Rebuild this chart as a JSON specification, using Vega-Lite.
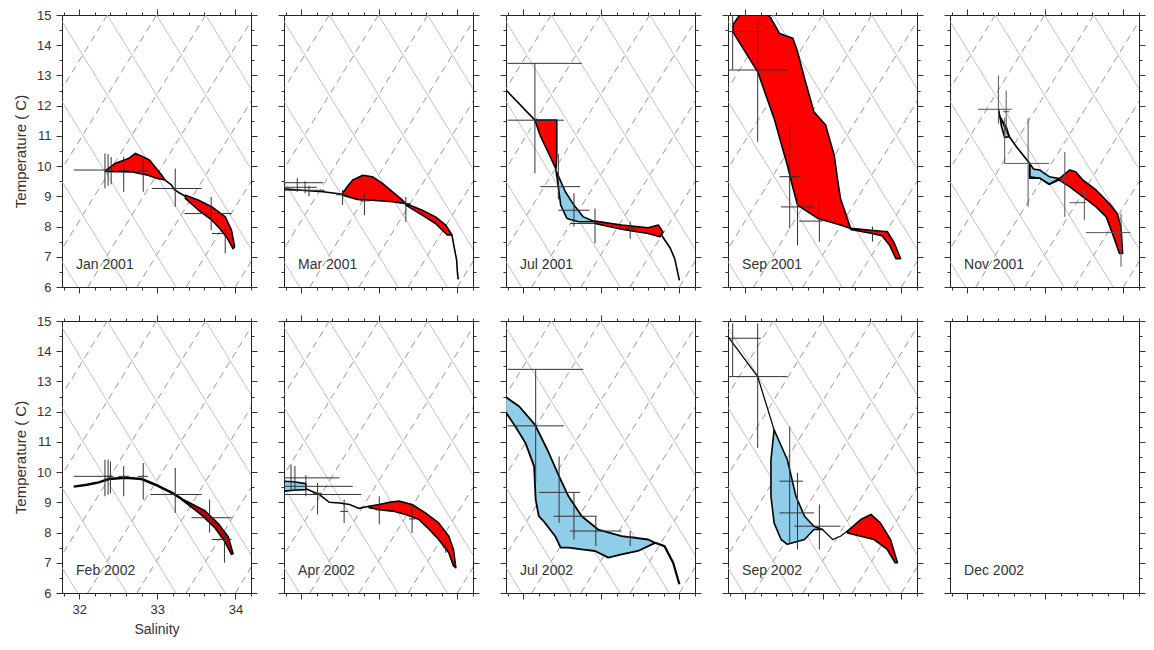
{
"$schema":"https://vega.github.io/schema/vega-lite/v6.json",
"padding":{"left":13,"top":8,"right":4,"bottom":4},
"background":"white",
"bounds":"flush",
"spacing":{"row":34,"column":33},
"columns":5,
"config":{"view":{"stroke":"#222","strokeWidth":1},"axis":{"domain":false,"grid":false,"tickColor":"#333","tickWidth":1,"labelFont":"Liberation Sans","labelFontSize":13,"labelColor":"#333","titleFont":"Liberation Sans","titleFontWeight":"normal","titleColor":"#333","titleFontSize":14,"labelOverlap":false,"labelFlush":false}},
"datasets":{
"iso":[
{"id":"d1","k":"d","s":30.22,"t":6},{"id":"d1","k":"d","s":32.36,"t":15},
{"id":"d2","k":"d","s":30.85,"t":6},{"id":"d2","k":"d","s":32.99,"t":15},
{"id":"d3","k":"d","s":31.48,"t":6},{"id":"d3","k":"d","s":33.62,"t":15},
{"id":"d4","k":"d","s":32.11,"t":6},{"id":"d4","k":"d","s":34.25,"t":15},
{"id":"d5","k":"d","s":32.74,"t":6},{"id":"d5","k":"d","s":34.88,"t":15},
{"id":"d6","k":"d","s":33.37,"t":6},{"id":"d6","k":"d","s":35.51,"t":15},
{"id":"d7","k":"d","s":34.0,"t":6},{"id":"d7","k":"d","s":36.14,"t":15},
{"id":"s1","k":"s","s":29.84,"t":15},{"id":"s1","k":"s","s":31.98,"t":6},
{"id":"s2","k":"s","s":30.47,"t":15},{"id":"s2","k":"s","s":32.61,"t":6},
{"id":"s3","k":"s","s":31.1,"t":15},{"id":"s3","k":"s","s":33.24,"t":6},
{"id":"s4","k":"s","s":31.73,"t":15},{"id":"s4","k":"s","s":33.87,"t":6},
{"id":"s5","k":"s","s":32.36,"t":15},{"id":"s5","k":"s","s":34.5,"t":6},
{"id":"s6","k":"s","s":32.99,"t":15},{"id":"s6","k":"s","s":35.13,"t":6},
{"id":"s7","k":"s","s":33.62,"t":15},{"id":"s7","k":"s","s":35.76,"t":6}
],
"polys":[
{"p":1,"g":"1a","c":"r","s":32.34,"t":9.86},{"p":1,"g":"1a","c":"r","s":32.46,"t":10.09},{"p":1,"g":"1a","c":"r","s":32.63,"t":10.25},{"p":1,"g":"1a","c":"r","s":32.72,"t":10.42},{"p":1,"g":"1a","c":"r","s":32.8,"t":10.33},{"p":1,"g":"1a","c":"r","s":32.9,"t":10.2},{"p":1,"g":"1a","c":"r","s":32.97,"t":9.98},{"p":1,"g":"1a","c":"r","s":33.05,"t":9.72},{"p":1,"g":"1a","c":"r","s":33.1,"t":9.54},{"p":1,"g":"1a","c":"r","s":33.0,"t":9.59},{"p":1,"g":"1a","c":"r","s":32.88,"t":9.7},{"p":1,"g":"1a","c":"r","s":32.68,"t":9.81},{"p":1,"g":"1a","c":"r","s":32.34,"t":9.82},
{"p":1,"g":"1b","c":"r","s":33.36,"t":9.04},{"p":1,"g":"1b","c":"r","s":33.53,"t":8.87},{"p":1,"g":"1b","c":"r","s":33.7,"t":8.65},{"p":1,"g":"1b","c":"r","s":33.87,"t":8.32},{"p":1,"g":"1b","c":"r","s":33.95,"t":7.88},{"p":1,"g":"1b","c":"r","s":33.99,"t":7.33},{"p":1,"g":"1b","c":"r","s":33.97,"t":7.27},{"p":1,"g":"1b","c":"r","s":33.9,"t":7.6},{"p":1,"g":"1b","c":"r","s":33.82,"t":7.88},{"p":1,"g":"1b","c":"r","s":33.7,"t":8.21},{"p":1,"g":"1b","c":"r","s":33.53,"t":8.54},{"p":1,"g":"1b","c":"r","s":33.36,"t":8.93},
{"p":2,"g":"2a","c":"r","s":32.53,"t":9.1},{"p":2,"g":"2a","c":"r","s":32.6,"t":9.35},{"p":2,"g":"2a","c":"r","s":32.66,"t":9.54},{"p":2,"g":"2a","c":"r","s":32.79,"t":9.7},{"p":2,"g":"2a","c":"r","s":32.91,"t":9.65},{"p":2,"g":"2a","c":"r","s":33.04,"t":9.43},{"p":2,"g":"2a","c":"r","s":33.17,"t":9.15},{"p":2,"g":"2a","c":"r","s":33.27,"t":8.93},{"p":2,"g":"2a","c":"r","s":33.34,"t":8.76},{"p":2,"g":"2a","c":"r","s":33.17,"t":8.82},{"p":2,"g":"2a","c":"r","s":32.91,"t":8.87},{"p":2,"g":"2a","c":"r","s":32.72,"t":8.9},{"p":2,"g":"2a","c":"r","s":32.53,"t":9.04},
{"p":2,"g":"2b","c":"r","s":33.34,"t":8.76},{"p":2,"g":"2b","c":"r","s":33.55,"t":8.54},{"p":2,"g":"2b","c":"r","s":33.72,"t":8.32},{"p":2,"g":"2b","c":"r","s":33.85,"t":8.05},{"p":2,"g":"2b","c":"r","s":33.93,"t":7.72},{"p":2,"g":"2b","c":"r","s":33.87,"t":7.72},{"p":2,"g":"2b","c":"r","s":33.72,"t":8.1},{"p":2,"g":"2b","c":"r","s":33.55,"t":8.38},{"p":2,"g":"2b","c":"r","s":33.34,"t":8.71},
{"p":3,"g":"3a","c":"r","s":32.15,"t":11.52},{"p":3,"g":"3a","c":"r","s":32.43,"t":11.52},{"p":3,"g":"3a","c":"r","s":32.43,"t":10.4},{"p":3,"g":"3a","c":"r","s":32.42,"t":9.9},{"p":3,"g":"3a","c":"r","s":32.33,"t":10.4},{"p":3,"g":"3a","c":"r","s":32.22,"t":11.0},
{"p":3,"g":"3b","c":"b","s":32.42,"t":9.85},{"p":3,"g":"3b","c":"b","s":32.54,"t":9.15},{"p":3,"g":"3b","c":"b","s":32.65,"t":8.71},{"p":3,"g":"3b","c":"b","s":32.77,"t":8.32},{"p":3,"g":"3b","c":"b","s":32.92,"t":8.16},{"p":3,"g":"3b","c":"b","s":32.71,"t":8.16},{"p":3,"g":"3b","c":"b","s":32.56,"t":8.27},{"p":3,"g":"3b","c":"b","s":32.48,"t":8.71},{"p":3,"g":"3b","c":"b","s":32.45,"t":9.32},
{"p":3,"g":"3c","c":"r","s":32.92,"t":8.18},{"p":3,"g":"3c","c":"r","s":33.26,"t":8.05},{"p":3,"g":"3c","c":"r","s":33.6,"t":7.96},{"p":3,"g":"3c","c":"r","s":33.73,"t":8.05},{"p":3,"g":"3c","c":"r","s":33.79,"t":7.82},{"p":3,"g":"3c","c":"r","s":33.75,"t":7.66},{"p":3,"g":"3c","c":"r","s":33.6,"t":7.77},{"p":3,"g":"3c","c":"r","s":33.26,"t":7.91},{"p":3,"g":"3c","c":"r","s":32.92,"t":8.1},
{"p":4,"g":"4a","c":"r","s":31.93,"t":15.0},{"p":4,"g":"4a","c":"r","s":32.29,"t":15.0},{"p":4,"g":"4a","c":"r","s":32.33,"t":14.89},{"p":4,"g":"4a","c":"r","s":32.44,"t":14.39},{"p":4,"g":"4a","c":"r","s":32.61,"t":14.23},{"p":4,"g":"4a","c":"r","s":32.67,"t":13.79},{"p":4,"g":"4a","c":"r","s":32.72,"t":13.3},{"p":4,"g":"4a","c":"r","s":32.76,"t":12.9},{"p":4,"g":"4a","c":"r","s":32.88,"t":11.8},{"p":4,"g":"4a","c":"r","s":33.03,"t":11.36},{"p":4,"g":"4a","c":"r","s":33.08,"t":10.9},{"p":4,"g":"4a","c":"r","s":33.14,"t":10.36},{"p":4,"g":"4a","c":"r","s":33.18,"t":9.6},{"p":4,"g":"4a","c":"r","s":33.22,"t":8.93},{"p":4,"g":"4a","c":"r","s":33.35,"t":7.94},{"p":4,"g":"4a","c":"r","s":33.22,"t":8.05},{"p":4,"g":"4a","c":"r","s":32.93,"t":8.27},{"p":4,"g":"4a","c":"r","s":32.67,"t":8.71},{"p":4,"g":"4a","c":"r","s":32.6,"t":9.4},{"p":4,"g":"4a","c":"r","s":32.54,"t":10.03},{"p":4,"g":"4a","c":"r","s":32.37,"t":11.58},{"p":4,"g":"4a","c":"r","s":32.16,"t":13.12},{"p":4,"g":"4a","c":"r","s":31.84,"t":14.45},{"p":4,"g":"4a","c":"r","s":31.85,"t":14.7},
{"p":4,"g":"4b","c":"r","s":33.35,"t":7.94},{"p":4,"g":"4b","c":"r","s":33.61,"t":7.88},{"p":4,"g":"4b","c":"r","s":33.82,"t":7.83},{"p":4,"g":"4b","c":"r","s":33.9,"t":7.5},{"p":4,"g":"4b","c":"r","s":33.99,"t":6.94},{"p":4,"g":"4b","c":"r","s":33.93,"t":6.94},{"p":4,"g":"4b","c":"r","s":33.85,"t":7.38},{"p":4,"g":"4b","c":"r","s":33.75,"t":7.7},{"p":4,"g":"4b","c":"r","s":33.61,"t":7.78},{"p":4,"g":"4b","c":"r","s":33.35,"t":7.9},
{"p":5,"g":"5a","c":"r","s":33.18,"t":9.59},{"p":5,"g":"5a","c":"r","s":33.31,"t":9.87},{"p":5,"g":"5a","c":"r","s":33.39,"t":9.81},{"p":5,"g":"5a","c":"r","s":33.48,"t":9.54},{"p":5,"g":"5a","c":"r","s":33.65,"t":9.21},{"p":5,"g":"5a","c":"r","s":33.82,"t":8.76},{"p":5,"g":"5a","c":"r","s":33.92,"t":8.43},{"p":5,"g":"5a","c":"r","s":33.97,"t":7.99},{"p":5,"g":"5a","c":"r","s":33.99,"t":7.11},{"p":5,"g":"5a","c":"r","s":33.95,"t":7.11},{"p":5,"g":"5a","c":"r","s":33.86,"t":7.77},{"p":5,"g":"5a","c":"r","s":33.78,"t":8.32},{"p":5,"g":"5a","c":"r","s":33.65,"t":8.65},{"p":5,"g":"5a","c":"r","s":33.48,"t":8.99},{"p":5,"g":"5a","c":"r","s":33.31,"t":9.32},{"p":5,"g":"5a","c":"r","s":33.18,"t":9.54},
{"p":5,"g":"5b","c":"b","s":32.42,"t":11.63},{"p":5,"g":"5b","c":"b","s":32.5,"t":11.3},{"p":5,"g":"5b","c":"b","s":32.54,"t":10.97},{"p":5,"g":"5b","c":"b","s":32.48,"t":10.95},{"p":5,"g":"5b","c":"b","s":32.44,"t":11.3},
{"p":5,"g":"5c","c":"b","s":32.8,"t":10.09},{"p":5,"g":"5c","c":"b","s":32.85,"t":9.9},{"p":5,"g":"5c","c":"b","s":32.93,"t":9.87},{"p":5,"g":"5c","c":"b","s":33.05,"t":9.65},{"p":5,"g":"5c","c":"b","s":33.18,"t":9.59},{"p":5,"g":"5c","c":"b","s":33.05,"t":9.4},{"p":5,"g":"5c","c":"b","s":32.93,"t":9.6},{"p":5,"g":"5c","c":"b","s":32.8,"t":9.6},
{"p":6,"g":"6a","c":"r","s":33.31,"t":9.12},{"p":6,"g":"6a","c":"r","s":33.4,"t":9.0},{"p":6,"g":"6a","c":"r","s":33.61,"t":8.72},{"p":6,"g":"6a","c":"r","s":33.78,"t":8.3},{"p":6,"g":"6a","c":"r","s":33.91,"t":7.85},{"p":6,"g":"6a","c":"r","s":33.97,"t":7.3},{"p":6,"g":"6a","c":"r","s":33.95,"t":7.28},{"p":6,"g":"6a","c":"r","s":33.86,"t":7.72},{"p":6,"g":"6a","c":"r","s":33.74,"t":8.15},{"p":6,"g":"6a","c":"r","s":33.58,"t":8.55},{"p":6,"g":"6a","c":"r","s":33.4,"t":8.92},{"p":6,"g":"6a","c":"r","s":33.31,"t":9.09},
{"p":7,"g":"7a","c":"b","s":31.78,"t":9.7},{"p":7,"g":"7a","c":"b","s":31.9,"t":9.68},{"p":7,"g":"7a","c":"b","s":32.06,"t":9.62},{"p":7,"g":"7a","c":"b","s":32.06,"t":9.42},{"p":7,"g":"7a","c":"b","s":31.9,"t":9.4},{"p":7,"g":"7a","c":"b","s":31.78,"t":9.37},
{"p":7,"g":"7b","c":"r","s":32.87,"t":8.87},{"p":7,"g":"7b","c":"r","s":33.0,"t":8.93},{"p":7,"g":"7b","c":"r","s":33.13,"t":9.0},{"p":7,"g":"7b","c":"r","s":33.25,"t":9.04},{"p":7,"g":"7b","c":"r","s":33.42,"t":8.93},{"p":7,"g":"7b","c":"r","s":33.59,"t":8.65},{"p":7,"g":"7b","c":"r","s":33.76,"t":8.32},{"p":7,"g":"7b","c":"r","s":33.89,"t":7.88},{"p":7,"g":"7b","c":"r","s":33.95,"t":7.44},{"p":7,"g":"7b","c":"r","s":33.98,"t":6.84},{"p":7,"g":"7b","c":"r","s":33.95,"t":6.9},{"p":7,"g":"7b","c":"r","s":33.89,"t":7.33},{"p":7,"g":"7b","c":"r","s":33.76,"t":7.77},{"p":7,"g":"7b","c":"r","s":33.64,"t":8.1},{"p":7,"g":"7b","c":"r","s":33.51,"t":8.43},{"p":7,"g":"7b","c":"r","s":33.34,"t":8.6},{"p":7,"g":"7b","c":"r","s":33.17,"t":8.71},{"p":7,"g":"7b","c":"r","s":33.0,"t":8.76},{"p":7,"g":"7b","c":"r","s":32.87,"t":8.82},
{"p":8,"g":"8a","c":"b","s":31.77,"t":12.5},{"p":8,"g":"8a","c":"b","s":31.95,"t":12.17},{"p":8,"g":"8a","c":"b","s":32.15,"t":11.57},{"p":8,"g":"8a","c":"b","s":32.31,"t":10.74},{"p":8,"g":"8a","c":"b","s":32.46,"t":9.86},{"p":8,"g":"8a","c":"b","s":32.58,"t":9.2},{"p":8,"g":"8a","c":"b","s":32.75,"t":8.54},{"p":8,"g":"8a","c":"b","s":32.96,"t":8.1},{"p":8,"g":"8a","c":"b","s":33.26,"t":7.88},{"p":8,"g":"8a","c":"b","s":33.6,"t":7.77},{"p":8,"g":"8a","c":"b","s":33.69,"t":7.66},{"p":8,"g":"8a","c":"b","s":33.47,"t":7.39},{"p":8,"g":"8a","c":"b","s":33.26,"t":7.28},{"p":8,"g":"8a","c":"b","s":33.09,"t":7.17},{"p":8,"g":"8a","c":"b","s":32.92,"t":7.39},{"p":8,"g":"8a","c":"b","s":32.75,"t":7.44},{"p":8,"g":"8a","c":"b","s":32.58,"t":7.5},{"p":8,"g":"8a","c":"b","s":32.48,"t":7.5},{"p":8,"g":"8a","c":"b","s":32.41,"t":7.88},{"p":8,"g":"8a","c":"b","s":32.26,"t":8.38},{"p":8,"g":"8a","c":"b","s":32.2,"t":8.54},{"p":8,"g":"8a","c":"b","s":32.16,"t":9.09},{"p":8,"g":"8a","c":"b","s":32.14,"t":10.19},{"p":8,"g":"8a","c":"b","s":32.03,"t":10.96},{"p":8,"g":"8a","c":"b","s":31.9,"t":11.51},{"p":8,"g":"8a","c":"b","s":31.77,"t":12.01},
{"p":9,"g":"9a","c":"b","s":32.37,"t":11.4},{"p":9,"g":"9a","c":"b","s":32.54,"t":10.41},{"p":9,"g":"9a","c":"b","s":32.65,"t":9.2},{"p":9,"g":"9a","c":"b","s":32.76,"t":8.54},{"p":9,"g":"9a","c":"b","s":32.88,"t":8.21},{"p":9,"g":"9a","c":"b","s":32.99,"t":8.1},{"p":9,"g":"9a","c":"b","s":32.88,"t":8.1},{"p":9,"g":"9a","c":"b","s":32.76,"t":7.77},{"p":9,"g":"9a","c":"b","s":32.54,"t":7.61},{"p":9,"g":"9a","c":"b","s":32.46,"t":7.77},{"p":9,"g":"9a","c":"b","s":32.37,"t":8.32},{"p":9,"g":"9a","c":"b","s":32.33,"t":9.2},{"p":9,"g":"9a","c":"b","s":32.33,"t":10.41},
{"p":9,"g":"9b","c":"r","s":33.31,"t":8.05},{"p":9,"g":"9b","c":"r","s":33.48,"t":8.43},{"p":9,"g":"9b","c":"r","s":33.61,"t":8.6},{"p":9,"g":"9b","c":"r","s":33.73,"t":8.32},{"p":9,"g":"9b","c":"r","s":33.86,"t":7.77},{"p":9,"g":"9b","c":"r","s":33.95,"t":7.0},{"p":9,"g":"9b","c":"r","s":33.92,"t":7.0},{"p":9,"g":"9b","c":"r","s":33.82,"t":7.44},{"p":9,"g":"9b","c":"r","s":33.65,"t":7.77},{"p":9,"g":"9b","c":"r","s":33.48,"t":7.88},{"p":9,"g":"9b","c":"r","s":33.31,"t":7.99}
],
"lines":[
{"p":1,"g":"1l","s":33.1,"t":9.54},{"p":1,"g":"1l","s":33.18,"t":9.38},{"p":1,"g":"1l","s":33.22,"t":9.22},{"p":1,"g":"1l","s":33.28,"t":9.12},{"p":1,"g":"1l","s":33.36,"t":9.0},
{"p":2,"g":"2l1","s":31.78,"t":9.25},{"p":2,"g":"2l1","s":32.0,"t":9.2},{"p":2,"g":"2l1","s":32.28,"t":9.15},{"p":2,"g":"2l1","s":32.53,"t":9.07},
{"p":2,"g":"2l2","s":33.93,"t":7.72},{"p":2,"g":"2l2","s":33.96,"t":7.3},{"p":2,"g":"2l2","s":33.99,"t":6.9},{"p":2,"g":"2l2","s":34.0,"t":6.5},{"p":2,"g":"2l2","s":34.01,"t":6.25},
{"p":3,"g":"3l1","s":31.78,"t":12.52},{"p":3,"g":"3l1","s":32.15,"t":11.52},
{"p":3,"g":"3l2","s":33.77,"t":7.72},{"p":3,"g":"3l2","s":33.88,"t":7.3},{"p":3,"g":"3l2","s":33.94,"t":6.94},{"p":3,"g":"3l2","s":34.0,"t":6.22},
{"p":5,"g":"5l","s":32.4,"t":11.9},{"p":5,"g":"5l","s":32.42,"t":11.63},{"p":5,"g":"5l","s":32.5,"t":11.2},{"p":5,"g":"5l","s":32.54,"t":10.97},{"p":5,"g":"5l","s":32.63,"t":10.64},{"p":5,"g":"5l","s":32.8,"t":10.09},{"p":5,"g":"5l","s":32.8,"t":9.65},{"p":5,"g":"5l","s":32.93,"t":9.6},{"p":5,"g":"5l","s":33.05,"t":9.4},{"p":5,"g":"5l","s":33.18,"t":9.55},
{"p":6,"g":"6l","s":31.93,"t":9.52},{"p":6,"g":"6l","s":32.1,"t":9.58},{"p":6,"g":"6l","s":32.25,"t":9.66},{"p":6,"g":"6l","s":32.38,"t":9.77},{"p":6,"g":"6l","s":32.59,"t":9.81},{"p":6,"g":"6l","s":32.8,"t":9.77},{"p":6,"g":"6l","s":32.97,"t":9.59},{"p":6,"g":"6l","s":33.19,"t":9.31},{"p":6,"g":"6l","s":33.31,"t":9.12},
{"p":7,"g":"7l","s":32.06,"t":9.45},{"p":7,"g":"7l","s":32.23,"t":9.26},{"p":7,"g":"7l","s":32.36,"t":9.0},{"p":7,"g":"7l","s":32.49,"t":8.98},{"p":7,"g":"7l","s":32.62,"t":8.93},{"p":7,"g":"7l","s":32.74,"t":8.8},{"p":7,"g":"7l","s":32.87,"t":8.87},
{"p":8,"g":"8l","s":33.69,"t":7.66},{"p":8,"g":"8l","s":33.81,"t":7.55},{"p":8,"g":"8l","s":33.92,"t":7.0},{"p":8,"g":"8l","s":34.0,"t":6.29},
{"p":9,"g":"9l1","s":31.78,"t":14.48},{"p":9,"g":"9l1","s":32.16,"t":13.16},{"p":9,"g":"9l1","s":32.37,"t":11.4},
{"p":9,"g":"9l2","s":32.99,"t":8.1},{"p":9,"g":"9l2","s":33.12,"t":7.77},{"p":9,"g":"9l2","s":33.22,"t":7.88},{"p":9,"g":"9l2","s":33.31,"t":8.05}
],
"cross":[
{"p":1,"s":32.33,"t":9.87,"s1":31.93,"s2":32.36,"t1":10.42,"t2":9.26},{"p":1,"s":32.37,"t":9.85,"s1":32.33,"s2":32.41,"t1":10.4,"t2":9.35},{"p":1,"s":32.41,"t":9.85,"s1":32.38,"s2":32.44,"t1":10.3,"t2":9.4},{"p":1,"s":32.57,"t":9.85,"s1":32.5,"s2":32.64,"t1":10.31,"t2":9.15},{"p":1,"s":32.82,"t":9.85,"s1":32.75,"s2":32.88,"t1":10.25,"t2":9.15},{"p":1,"s":33.23,"t":9.26,"s1":32.93,"s2":33.57,"t1":9.92,"t2":8.65},{"p":1,"s":33.69,"t":8.43,"s1":33.35,"s2":33.95,"t1":8.98,"t2":7.88},{"p":1,"s":33.87,"t":7.77,"s1":33.7,"s2":33.95,"t1":8.0,"t2":7.11},
{"p":2,"s":31.95,"t":9.45,"s1":31.78,"s2":32.28,"t1":9.6,"t2":9.15},{"p":2,"s":32.05,"t":9.3,"s1":31.78,"s2":32.2,"t1":9.5,"t2":9.1},{"p":2,"s":32.1,"t":9.2,"s1":31.78,"s2":32.3,"t1":9.35,"t2":9.0},{"p":2,"s":32.53,"t":9.05,"s1":32.45,"s2":32.6,"t1":9.21,"t2":8.71},{"p":2,"s":32.81,"t":8.85,"s1":32.75,"s2":32.87,"t1":9.1,"t2":8.38},{"p":2,"s":33.34,"t":8.76,"s1":33.28,"s2":33.4,"t1":8.98,"t2":8.16},
{"p":3,"s":32.15,"t":11.52,"s1":31.8,"s2":32.52,"t1":13.4,"t2":9.76},{"p":3,"s":32.15,"t":13.4,"s1":31.8,"s2":32.75,"t1":13.4,"t2":13.4},{"p":3,"s":32.45,"t":9.32,"s1":32.22,"s2":32.73,"t1":10.4,"t2":8.9},{"p":3,"s":32.65,"t":8.54,"s1":32.45,"s2":32.85,"t1":9.1,"t2":8.0},{"p":3,"s":32.92,"t":8.1,"s1":32.6,"s2":32.92,"t1":8.6,"t2":7.44},{"p":3,"s":33.37,"t":7.95,"s1":33.3,"s2":33.44,"t1":8.16,"t2":7.6},
{"p":4,"s":31.84,"t":14.45,"s1":31.78,"s2":32.23,"t1":15.0,"t2":13.2},{"p":4,"s":32.16,"t":13.18,"s1":31.78,"s2":32.54,"t1":14.8,"t2":10.8},{"p":4,"s":32.57,"t":9.65,"s1":32.44,"s2":32.71,"t1":11.47,"t2":7.94},{"p":4,"s":32.67,"t":8.65,"s1":32.46,"s2":32.88,"t1":9.04,"t2":7.38},{"p":4,"s":32.95,"t":8.18,"s1":32.69,"s2":32.99,"t1":8.93,"t2":7.5},{"p":4,"s":33.63,"t":7.85,"s1":33.6,"s2":33.66,"t1":8.0,"t2":7.5},
{"p":5,"s":32.4,"t":11.88,"s1":32.14,"s2":32.57,"t1":13.0,"t2":11.4},{"p":5,"s":32.5,"t":11.8,"s1":32.46,"s2":32.54,"t1":12.5,"t2":11.08},{"p":5,"s":32.78,"t":10.09,"s1":32.48,"s2":33.05,"t1":11.58,"t2":8.65},{"p":5,"s":32.48,"t":10.09,"s1":32.48,"s2":32.48,"t1":11.6,"t2":10.09},{"p":5,"s":33.25,"t":9.5,"s1":33.18,"s2":33.32,"t1":10.47,"t2":8.32},{"p":5,"s":33.5,"t":8.79,"s1":33.31,"s2":33.52,"t1":9.21,"t2":8.21},{"p":5,"s":33.97,"t":7.8,"s1":33.52,"s2":34.09,"t1":8.43,"t2":6.67},
{"p":6,"s":32.33,"t":9.86,"s1":31.93,"s2":32.42,"t1":10.41,"t2":9.2},{"p":6,"s":32.37,"t":9.86,"s1":32.33,"s2":32.41,"t1":10.41,"t2":9.25},{"p":6,"s":32.4,"t":9.86,"s1":32.37,"s2":32.44,"t1":10.35,"t2":9.3},{"p":6,"s":32.57,"t":9.86,"s1":32.5,"s2":32.64,"t1":10.2,"t2":9.2},{"p":6,"s":32.82,"t":9.86,"s1":32.75,"s2":32.88,"t1":10.3,"t2":9.09},{"p":6,"s":33.23,"t":9.26,"s1":32.91,"s2":33.57,"t1":10.14,"t2":8.65},{"p":6,"s":33.67,"t":8.49,"s1":33.44,"s2":33.95,"t1":9.09,"t2":8.0},{"p":6,"s":33.86,"t":7.77,"s1":33.7,"s2":33.95,"t1":8.0,"t2":7.0},
{"p":7,"s":31.87,"t":9.81,"s1":31.78,"s2":32.49,"t1":10.25,"t2":9.37},{"p":7,"s":31.92,"t":9.53,"s1":31.78,"s2":32.66,"t1":10.2,"t2":9.4},{"p":7,"s":32.06,"t":9.26,"s1":31.78,"s2":32.77,"t1":9.9,"t2":9.2},{"p":7,"s":32.21,"t":9.3,"s1":32.15,"s2":32.27,"t1":9.64,"t2":8.6},{"p":7,"s":32.55,"t":8.7,"s1":32.5,"s2":32.6,"t1":9.09,"t2":8.32},{"p":7,"s":33.0,"t":8.75,"s1":32.95,"s2":33.05,"t1":9.2,"t2":8.27},{"p":7,"s":33.42,"t":8.45,"s1":33.38,"s2":33.46,"t1":8.87,"t2":7.99},{"p":7,"s":33.85,"t":7.5,"s1":33.82,"s2":33.88,"t1":7.77,"t2":7.33},
{"p":8,"s":32.16,"t":11.53,"s1":31.8,"s2":32.52,"t1":13.4,"t2":9.64},{"p":8,"s":32.16,"t":13.4,"s1":31.8,"s2":32.77,"t1":13.4,"t2":13.4},{"p":8,"s":32.46,"t":9.33,"s1":32.2,"s2":32.73,"t1":10.52,"t2":8.32},{"p":8,"s":32.65,"t":8.54,"s1":32.39,"s2":32.94,"t1":9.31,"t2":7.77},{"p":8,"s":32.93,"t":8.05,"s1":32.6,"s2":33.26,"t1":8.54,"t2":7.55},{"p":8,"s":33.37,"t":7.85,"s1":33.3,"s2":33.44,"t1":8.05,"t2":7.55},
{"p":9,"s":31.84,"t":14.43,"s1":31.78,"s2":32.2,"t1":14.92,"t2":13.16},{"p":9,"s":32.16,"t":13.16,"s1":31.78,"s2":32.54,"t1":14.92,"t2":10.8},{"p":9,"s":32.57,"t":9.7,"s1":32.44,"s2":32.74,"t1":11.51,"t2":7.66},{"p":9,"s":32.67,"t":8.65,"s1":32.44,"s2":32.88,"t1":9.97,"t2":7.44},{"p":9,"s":32.95,"t":8.21,"s1":32.63,"s2":33.22,"t1":8.93,"t2":7.44}
],
"labels":[{"p":1,"name":"Jan 2001"},{"p":2,"name":"Mar 2001"},{"p":3,"name":"Jul 2001"},{"p":4,"name":"Sep 2001"},{"p":5,"name":"Nov 2001"},{"p":6,"name":"Feb 2002"},{"p":7,"name":"Apr 2002"},{"p":8,"name":"Jul 2002"},{"p":9,"name":"Sep 2002"},{"p":10,"name":"Dec 2002"}]
},
"concat":[
{"width":189,"height":272,"resolve":{"axis":{"x":"independent","y":"independent"}},"layer":[
{"data":{"name":"iso"},"transform":[{"filter":"datum.k=='d'"}],"mark":{"type":"line","clip":true,"stroke":"#8c8c8c","strokeWidth":0.9,"strokeDash":[7,5]},"encoding":{"x":{"field":"s","type":"quantitative","scale":{"domain":[31.78,34.2],"nice":false,"zero":false},"axis":null},"y":{"field":"t","type":"quantitative","scale":{"domain":[6,15],"nice":false,"zero":false},"axis":null},"detail":{"field":"id"}}},
{"data":{"name":"iso"},"transform":[{"filter":"datum.k=='s'"}],"mark":{"type":"line","clip":true,"stroke":"#b4b4b4","strokeWidth":0.8},"encoding":{"x":{"field":"s","type":"quantitative","scale":{"domain":[31.78,34.2],"nice":false,"zero":false},"axis":null},"y":{"field":"t","type":"quantitative","scale":{"domain":[6,15],"nice":false,"zero":false},"axis":null},"detail":{"field":"id"}}},
{"data":{"name":"polys"},"transform":[{"filter":"datum.p==1 && datum.c=='r'"}],"mark":{"type":"line","clip":true,"interpolate":"linear-closed","fill":"#ff0000","stroke":"#000","strokeWidth":1.6,"strokeJoin":"round"},"encoding":{"x":{"field":"s","type":"quantitative","scale":{"domain":[31.78,34.2],"nice":false,"zero":false},"axis":null},"y":{"field":"t","type":"quantitative","scale":{"domain":[6,15],"nice":false,"zero":false},"axis":null},"detail":{"field":"g"},"order":{"value":null}}},
{"data":{"name":"lines"},"transform":[{"filter":"datum.p==1"}],"mark":{"type":"line","clip":true,"stroke":"#000","strokeWidth":1.6},"encoding":{"x":{"field":"s","type":"quantitative","scale":{"domain":[31.78,34.2],"nice":false,"zero":false},"axis":null},"y":{"field":"t","type":"quantitative","scale":{"domain":[6,15],"nice":false,"zero":false},"axis":null},"detail":{"field":"g"},"order":{"value":null}}},
{"data":{"name":"cross"},"transform":[{"filter":"datum.p==1"}],"mark":{"type":"rule","clip":true,"stroke":"#333","strokeWidth":1},"encoding":{"x":{"field":"s1","type":"quantitative","scale":{"domain":[31.78,34.2],"nice":false,"zero":false},"axis":null},"x2":{"field":"s2"},"y":{"field":"t","type":"quantitative","scale":{"domain":[6,15],"nice":false,"zero":false},"axis":null}}},
{"data":{"name":"cross"},"transform":[{"filter":"datum.p==1"}],"mark":{"type":"rule","clip":true,"stroke":"#333","strokeWidth":1},"encoding":{"x":{"field":"s","type":"quantitative","scale":{"domain":[31.78,34.2],"nice":false,"zero":false},"axis":null},"y":{"field":"t1","type":"quantitative","scale":{"domain":[6,15],"nice":false,"zero":false},"axis":null},"y2":{"field":"t2"}}},
{"data":{"name":"labels"},"transform":[{"filter":"datum.p==1"}],"mark":{"type":"text","align":"left","baseline":"middle","font":"Liberation Sans","fontSize":14,"color":"#333"},"encoding":{"text":{"field":"name"},"x":{"datum":31.96,"type":"quantitative","scale":{"domain":[31.78,34.2],"nice":false,"zero":false},"axis":{"orient":"bottom","values":[31.8,32,32.2,32.4,32.6,32.8,33,33.2,33.4,33.6,33.8,34,34.2],"labels":false,"title":null,"tickSize":{"condition":{"test":"datum.value % 1 == 0","value":6},"value":3}}},"y":{"datum":6.72,"type":"quantitative","scale":{"domain":[6,15],"nice":false,"zero":false},"axis":{"orient":"left","values":[6,6.5,7,7.5,8,8.5,9,9.5,10,10.5,11,11.5,12,12.5,13,13.5,14,14.5,15],"labelExpr":"datum.value % 1 == 0 ? format(datum.value,'d') : ''","title":"Temperature ( C)","titleFontSize":15,"labelPadding":5,"titlePadding":8,"tickSize":{"condition":{"test":"datum.value % 1 == 0","value":6},"value":3}}}}},
{"data":{"name":"labels"},"transform":[{"filter":"datum.p==1"}],"mark":{"type":"text","opacity":0},"encoding":{"text":{"field":"name"},"x":{"datum":31.96,"type":"quantitative","scale":{"domain":[31.78,34.2],"nice":false,"zero":false},"axis":{"orient":"top","values":[31.8,32,32.2,32.4,32.6,32.8,33,33.2,33.4,33.6,33.8,34,34.2],"labels":false,"title":null,"tickSize":{"condition":{"test":"datum.value % 1 == 0","value":6},"value":3}}},"y":{"datum":6.72,"type":"quantitative","scale":{"domain":[6,15],"nice":false,"zero":false},"axis":{"orient":"right","values":[6,6.5,7,7.5,8,8.5,9,9.5,10,10.5,11,11.5,12,12.5,13,13.5,14,14.5,15],"labels":false,"title":null,"tickSize":{"condition":{"test":"datum.value % 1 == 0","value":6},"value":3}}}}}
]},
{"width":189,"height":272,"resolve":{"axis":{"x":"independent","y":"independent"}},"layer":[
{"data":{"name":"iso"},"transform":[{"filter":"datum.k=='d'"}],"mark":{"type":"line","clip":true,"stroke":"#8c8c8c","strokeWidth":0.9,"strokeDash":[7,5]},"encoding":{"x":{"field":"s","type":"quantitative","scale":{"domain":[31.78,34.2],"nice":false,"zero":false},"axis":null},"y":{"field":"t","type":"quantitative","scale":{"domain":[6,15],"nice":false,"zero":false},"axis":null},"detail":{"field":"id"}}},
{"data":{"name":"iso"},"transform":[{"filter":"datum.k=='s'"}],"mark":{"type":"line","clip":true,"stroke":"#b4b4b4","strokeWidth":0.8},"encoding":{"x":{"field":"s","type":"quantitative","scale":{"domain":[31.78,34.2],"nice":false,"zero":false},"axis":null},"y":{"field":"t","type":"quantitative","scale":{"domain":[6,15],"nice":false,"zero":false},"axis":null},"detail":{"field":"id"}}},
{"data":{"name":"polys"},"transform":[{"filter":"datum.p==2 && datum.c=='r'"}],"mark":{"type":"line","clip":true,"interpolate":"linear-closed","fill":"#ff0000","stroke":"#000","strokeWidth":1.6,"strokeJoin":"round"},"encoding":{"x":{"field":"s","type":"quantitative","scale":{"domain":[31.78,34.2],"nice":false,"zero":false},"axis":null},"y":{"field":"t","type":"quantitative","scale":{"domain":[6,15],"nice":false,"zero":false},"axis":null},"detail":{"field":"g"},"order":{"value":null}}},
{"data":{"name":"lines"},"transform":[{"filter":"datum.p==2"}],"mark":{"type":"line","clip":true,"stroke":"#000","strokeWidth":1.6},"encoding":{"x":{"field":"s","type":"quantitative","scale":{"domain":[31.78,34.2],"nice":false,"zero":false},"axis":null},"y":{"field":"t","type":"quantitative","scale":{"domain":[6,15],"nice":false,"zero":false},"axis":null},"detail":{"field":"g"},"order":{"value":null}}},
{"data":{"name":"cross"},"transform":[{"filter":"datum.p==2"}],"mark":{"type":"rule","clip":true,"stroke":"#333","strokeWidth":1},"encoding":{"x":{"field":"s1","type":"quantitative","scale":{"domain":[31.78,34.2],"nice":false,"zero":false},"axis":null},"x2":{"field":"s2"},"y":{"field":"t","type":"quantitative","scale":{"domain":[6,15],"nice":false,"zero":false},"axis":null}}},
{"data":{"name":"cross"},"transform":[{"filter":"datum.p==2"}],"mark":{"type":"rule","clip":true,"stroke":"#333","strokeWidth":1},"encoding":{"x":{"field":"s","type":"quantitative","scale":{"domain":[31.78,34.2],"nice":false,"zero":false},"axis":null},"y":{"field":"t1","type":"quantitative","scale":{"domain":[6,15],"nice":false,"zero":false},"axis":null},"y2":{"field":"t2"}}},
{"data":{"name":"labels"},"transform":[{"filter":"datum.p==2"}],"mark":{"type":"text","align":"left","baseline":"middle","font":"Liberation Sans","fontSize":14,"color":"#333"},"encoding":{"text":{"field":"name"},"x":{"datum":31.96,"type":"quantitative","scale":{"domain":[31.78,34.2],"nice":false,"zero":false},"axis":{"orient":"bottom","values":[31.8,32,32.2,32.4,32.6,32.8,33,33.2,33.4,33.6,33.8,34,34.2],"labels":false,"title":null,"tickSize":{"condition":{"test":"datum.value % 1 == 0","value":6},"value":3}}},"y":{"datum":6.72,"type":"quantitative","scale":{"domain":[6,15],"nice":false,"zero":false},"axis":{"orient":"left","values":[6,6.5,7,7.5,8,8.5,9,9.5,10,10.5,11,11.5,12,12.5,13,13.5,14,14.5,15],"labels":false,"title":null,"tickSize":{"condition":{"test":"datum.value % 1 == 0","value":6},"value":3}}}}},
{"data":{"name":"labels"},"transform":[{"filter":"datum.p==2"}],"mark":{"type":"text","opacity":0},"encoding":{"text":{"field":"name"},"x":{"datum":31.96,"type":"quantitative","scale":{"domain":[31.78,34.2],"nice":false,"zero":false},"axis":{"orient":"top","values":[31.8,32,32.2,32.4,32.6,32.8,33,33.2,33.4,33.6,33.8,34,34.2],"labels":false,"title":null,"tickSize":{"condition":{"test":"datum.value % 1 == 0","value":6},"value":3}}},"y":{"datum":6.72,"type":"quantitative","scale":{"domain":[6,15],"nice":false,"zero":false},"axis":{"orient":"right","values":[6,6.5,7,7.5,8,8.5,9,9.5,10,10.5,11,11.5,12,12.5,13,13.5,14,14.5,15],"labels":false,"title":null,"tickSize":{"condition":{"test":"datum.value % 1 == 0","value":6},"value":3}}}}}
]},
{"width":189,"height":272,"resolve":{"axis":{"x":"independent","y":"independent"}},"layer":[
{"data":{"name":"iso"},"transform":[{"filter":"datum.k=='d'"}],"mark":{"type":"line","clip":true,"stroke":"#8c8c8c","strokeWidth":0.9,"strokeDash":[7,5]},"encoding":{"x":{"field":"s","type":"quantitative","scale":{"domain":[31.78,34.2],"nice":false,"zero":false},"axis":null},"y":{"field":"t","type":"quantitative","scale":{"domain":[6,15],"nice":false,"zero":false},"axis":null},"detail":{"field":"id"}}},
{"data":{"name":"iso"},"transform":[{"filter":"datum.k=='s'"}],"mark":{"type":"line","clip":true,"stroke":"#b4b4b4","strokeWidth":0.8},"encoding":{"x":{"field":"s","type":"quantitative","scale":{"domain":[31.78,34.2],"nice":false,"zero":false},"axis":null},"y":{"field":"t","type":"quantitative","scale":{"domain":[6,15],"nice":false,"zero":false},"axis":null},"detail":{"field":"id"}}},
{"data":{"name":"polys"},"transform":[{"filter":"datum.p==3 && datum.c=='r'"}],"mark":{"type":"line","clip":true,"interpolate":"linear-closed","fill":"#ff0000","stroke":"#000","strokeWidth":1.6,"strokeJoin":"round"},"encoding":{"x":{"field":"s","type":"quantitative","scale":{"domain":[31.78,34.2],"nice":false,"zero":false},"axis":null},"y":{"field":"t","type":"quantitative","scale":{"domain":[6,15],"nice":false,"zero":false},"axis":null},"detail":{"field":"g"},"order":{"value":null}}},
{"data":{"name":"polys"},"transform":[{"filter":"datum.p==3 && datum.c=='b'"}],"mark":{"type":"line","clip":true,"interpolate":"linear-closed","fill":"#8fcde9","stroke":"#000","strokeWidth":1.6,"strokeJoin":"round"},"encoding":{"x":{"field":"s","type":"quantitative","scale":{"domain":[31.78,34.2],"nice":false,"zero":false},"axis":null},"y":{"field":"t","type":"quantitative","scale":{"domain":[6,15],"nice":false,"zero":false},"axis":null},"detail":{"field":"g"},"order":{"value":null}}},
{"data":{"name":"lines"},"transform":[{"filter":"datum.p==3"}],"mark":{"type":"line","clip":true,"stroke":"#000","strokeWidth":1.6},"encoding":{"x":{"field":"s","type":"quantitative","scale":{"domain":[31.78,34.2],"nice":false,"zero":false},"axis":null},"y":{"field":"t","type":"quantitative","scale":{"domain":[6,15],"nice":false,"zero":false},"axis":null},"detail":{"field":"g"},"order":{"value":null}}},
{"data":{"name":"cross"},"transform":[{"filter":"datum.p==3"}],"mark":{"type":"rule","clip":true,"stroke":"#333","strokeWidth":1},"encoding":{"x":{"field":"s1","type":"quantitative","scale":{"domain":[31.78,34.2],"nice":false,"zero":false},"axis":null},"x2":{"field":"s2"},"y":{"field":"t","type":"quantitative","scale":{"domain":[6,15],"nice":false,"zero":false},"axis":null}}},
{"data":{"name":"cross"},"transform":[{"filter":"datum.p==3"}],"mark":{"type":"rule","clip":true,"stroke":"#333","strokeWidth":1},"encoding":{"x":{"field":"s","type":"quantitative","scale":{"domain":[31.78,34.2],"nice":false,"zero":false},"axis":null},"y":{"field":"t1","type":"quantitative","scale":{"domain":[6,15],"nice":false,"zero":false},"axis":null},"y2":{"field":"t2"}}},
{"data":{"name":"labels"},"transform":[{"filter":"datum.p==3"}],"mark":{"type":"text","align":"left","baseline":"middle","font":"Liberation Sans","fontSize":14,"color":"#333"},"encoding":{"text":{"field":"name"},"x":{"datum":31.96,"type":"quantitative","scale":{"domain":[31.78,34.2],"nice":false,"zero":false},"axis":{"orient":"bottom","values":[31.8,32,32.2,32.4,32.6,32.8,33,33.2,33.4,33.6,33.8,34,34.2],"labels":false,"title":null,"tickSize":{"condition":{"test":"datum.value % 1 == 0","value":6},"value":3}}},"y":{"datum":6.72,"type":"quantitative","scale":{"domain":[6,15],"nice":false,"zero":false},"axis":{"orient":"left","values":[6,6.5,7,7.5,8,8.5,9,9.5,10,10.5,11,11.5,12,12.5,13,13.5,14,14.5,15],"labels":false,"title":null,"tickSize":{"condition":{"test":"datum.value % 1 == 0","value":6},"value":3}}}}},
{"data":{"name":"labels"},"transform":[{"filter":"datum.p==3"}],"mark":{"type":"text","opacity":0},"encoding":{"text":{"field":"name"},"x":{"datum":31.96,"type":"quantitative","scale":{"domain":[31.78,34.2],"nice":false,"zero":false},"axis":{"orient":"top","values":[31.8,32,32.2,32.4,32.6,32.8,33,33.2,33.4,33.6,33.8,34,34.2],"labels":false,"title":null,"tickSize":{"condition":{"test":"datum.value % 1 == 0","value":6},"value":3}}},"y":{"datum":6.72,"type":"quantitative","scale":{"domain":[6,15],"nice":false,"zero":false},"axis":{"orient":"right","values":[6,6.5,7,7.5,8,8.5,9,9.5,10,10.5,11,11.5,12,12.5,13,13.5,14,14.5,15],"labels":false,"title":null,"tickSize":{"condition":{"test":"datum.value % 1 == 0","value":6},"value":3}}}}}
]},
{"width":189,"height":272,"resolve":{"axis":{"x":"independent","y":"independent"}},"layer":[
{"data":{"name":"iso"},"transform":[{"filter":"datum.k=='d'"}],"mark":{"type":"line","clip":true,"stroke":"#8c8c8c","strokeWidth":0.9,"strokeDash":[7,5]},"encoding":{"x":{"field":"s","type":"quantitative","scale":{"domain":[31.78,34.2],"nice":false,"zero":false},"axis":null},"y":{"field":"t","type":"quantitative","scale":{"domain":[6,15],"nice":false,"zero":false},"axis":null},"detail":{"field":"id"}}},
{"data":{"name":"iso"},"transform":[{"filter":"datum.k=='s'"}],"mark":{"type":"line","clip":true,"stroke":"#b4b4b4","strokeWidth":0.8},"encoding":{"x":{"field":"s","type":"quantitative","scale":{"domain":[31.78,34.2],"nice":false,"zero":false},"axis":null},"y":{"field":"t","type":"quantitative","scale":{"domain":[6,15],"nice":false,"zero":false},"axis":null},"detail":{"field":"id"}}},
{"data":{"name":"polys"},"transform":[{"filter":"datum.p==4 && datum.c=='r'"}],"mark":{"type":"line","clip":true,"interpolate":"linear-closed","fill":"#ff0000","stroke":"#000","strokeWidth":1.6,"strokeJoin":"round"},"encoding":{"x":{"field":"s","type":"quantitative","scale":{"domain":[31.78,34.2],"nice":false,"zero":false},"axis":null},"y":{"field":"t","type":"quantitative","scale":{"domain":[6,15],"nice":false,"zero":false},"axis":null},"detail":{"field":"g"},"order":{"value":null}}},
{"data":{"name":"cross"},"transform":[{"filter":"datum.p==4"}],"mark":{"type":"rule","clip":true,"stroke":"#333","strokeWidth":1},"encoding":{"x":{"field":"s1","type":"quantitative","scale":{"domain":[31.78,34.2],"nice":false,"zero":false},"axis":null},"x2":{"field":"s2"},"y":{"field":"t","type":"quantitative","scale":{"domain":[6,15],"nice":false,"zero":false},"axis":null}}},
{"data":{"name":"cross"},"transform":[{"filter":"datum.p==4"}],"mark":{"type":"rule","clip":true,"stroke":"#333","strokeWidth":1},"encoding":{"x":{"field":"s","type":"quantitative","scale":{"domain":[31.78,34.2],"nice":false,"zero":false},"axis":null},"y":{"field":"t1","type":"quantitative","scale":{"domain":[6,15],"nice":false,"zero":false},"axis":null},"y2":{"field":"t2"}}},
{"data":{"name":"labels"},"transform":[{"filter":"datum.p==4"}],"mark":{"type":"text","align":"left","baseline":"middle","font":"Liberation Sans","fontSize":14,"color":"#333"},"encoding":{"text":{"field":"name"},"x":{"datum":31.96,"type":"quantitative","scale":{"domain":[31.78,34.2],"nice":false,"zero":false},"axis":{"orient":"bottom","values":[31.8,32,32.2,32.4,32.6,32.8,33,33.2,33.4,33.6,33.8,34,34.2],"labels":false,"title":null,"tickSize":{"condition":{"test":"datum.value % 1 == 0","value":6},"value":3}}},"y":{"datum":6.72,"type":"quantitative","scale":{"domain":[6,15],"nice":false,"zero":false},"axis":{"orient":"left","values":[6,6.5,7,7.5,8,8.5,9,9.5,10,10.5,11,11.5,12,12.5,13,13.5,14,14.5,15],"labels":false,"title":null,"tickSize":{"condition":{"test":"datum.value % 1 == 0","value":6},"value":3}}}}},
{"data":{"name":"labels"},"transform":[{"filter":"datum.p==4"}],"mark":{"type":"text","opacity":0},"encoding":{"text":{"field":"name"},"x":{"datum":31.96,"type":"quantitative","scale":{"domain":[31.78,34.2],"nice":false,"zero":false},"axis":{"orient":"top","values":[31.8,32,32.2,32.4,32.6,32.8,33,33.2,33.4,33.6,33.8,34,34.2],"labels":false,"title":null,"tickSize":{"condition":{"test":"datum.value % 1 == 0","value":6},"value":3}}},"y":{"datum":6.72,"type":"quantitative","scale":{"domain":[6,15],"nice":false,"zero":false},"axis":{"orient":"right","values":[6,6.5,7,7.5,8,8.5,9,9.5,10,10.5,11,11.5,12,12.5,13,13.5,14,14.5,15],"labels":false,"title":null,"tickSize":{"condition":{"test":"datum.value % 1 == 0","value":6},"value":3}}}}}
]},
{"width":189,"height":272,"resolve":{"axis":{"x":"independent","y":"independent"}},"layer":[
{"data":{"name":"iso"},"transform":[{"filter":"datum.k=='d'"}],"mark":{"type":"line","clip":true,"stroke":"#8c8c8c","strokeWidth":0.9,"strokeDash":[7,5]},"encoding":{"x":{"field":"s","type":"quantitative","scale":{"domain":[31.78,34.2],"nice":false,"zero":false},"axis":null},"y":{"field":"t","type":"quantitative","scale":{"domain":[6,15],"nice":false,"zero":false},"axis":null},"detail":{"field":"id"}}},
{"data":{"name":"iso"},"transform":[{"filter":"datum.k=='s'"}],"mark":{"type":"line","clip":true,"stroke":"#b4b4b4","strokeWidth":0.8},"encoding":{"x":{"field":"s","type":"quantitative","scale":{"domain":[31.78,34.2],"nice":false,"zero":false},"axis":null},"y":{"field":"t","type":"quantitative","scale":{"domain":[6,15],"nice":false,"zero":false},"axis":null},"detail":{"field":"id"}}},
{"data":{"name":"polys"},"transform":[{"filter":"datum.p==5 && datum.c=='r'"}],"mark":{"type":"line","clip":true,"interpolate":"linear-closed","fill":"#ff0000","stroke":"#000","strokeWidth":1.6,"strokeJoin":"round"},"encoding":{"x":{"field":"s","type":"quantitative","scale":{"domain":[31.78,34.2],"nice":false,"zero":false},"axis":null},"y":{"field":"t","type":"quantitative","scale":{"domain":[6,15],"nice":false,"zero":false},"axis":null},"detail":{"field":"g"},"order":{"value":null}}},
{"data":{"name":"polys"},"transform":[{"filter":"datum.p==5 && datum.c=='b'"}],"mark":{"type":"line","clip":true,"interpolate":"linear-closed","fill":"#8fcde9","stroke":"#000","strokeWidth":1.6,"strokeJoin":"round"},"encoding":{"x":{"field":"s","type":"quantitative","scale":{"domain":[31.78,34.2],"nice":false,"zero":false},"axis":null},"y":{"field":"t","type":"quantitative","scale":{"domain":[6,15],"nice":false,"zero":false},"axis":null},"detail":{"field":"g"},"order":{"value":null}}},
{"data":{"name":"lines"},"transform":[{"filter":"datum.p==5"}],"mark":{"type":"line","clip":true,"stroke":"#000","strokeWidth":1.6},"encoding":{"x":{"field":"s","type":"quantitative","scale":{"domain":[31.78,34.2],"nice":false,"zero":false},"axis":null},"y":{"field":"t","type":"quantitative","scale":{"domain":[6,15],"nice":false,"zero":false},"axis":null},"detail":{"field":"g"},"order":{"value":null}}},
{"data":{"name":"cross"},"transform":[{"filter":"datum.p==5"}],"mark":{"type":"rule","clip":true,"stroke":"#555","strokeWidth":1},"encoding":{"x":{"field":"s1","type":"quantitative","scale":{"domain":[31.78,34.2],"nice":false,"zero":false},"axis":null},"x2":{"field":"s2"},"y":{"field":"t","type":"quantitative","scale":{"domain":[6,15],"nice":false,"zero":false},"axis":null}}},
{"data":{"name":"cross"},"transform":[{"filter":"datum.p==5"}],"mark":{"type":"rule","clip":true,"stroke":"#555","strokeWidth":1},"encoding":{"x":{"field":"s","type":"quantitative","scale":{"domain":[31.78,34.2],"nice":false,"zero":false},"axis":null},"y":{"field":"t1","type":"quantitative","scale":{"domain":[6,15],"nice":false,"zero":false},"axis":null},"y2":{"field":"t2"}}},
{"data":{"name":"labels"},"transform":[{"filter":"datum.p==5"}],"mark":{"type":"text","align":"left","baseline":"middle","font":"Liberation Sans","fontSize":14,"color":"#333"},"encoding":{"text":{"field":"name"},"x":{"datum":31.96,"type":"quantitative","scale":{"domain":[31.78,34.2],"nice":false,"zero":false},"axis":{"orient":"bottom","values":[31.8,32,32.2,32.4,32.6,32.8,33,33.2,33.4,33.6,33.8,34,34.2],"labels":false,"title":null,"tickSize":{"condition":{"test":"datum.value % 1 == 0","value":6},"value":3}}},"y":{"datum":6.72,"type":"quantitative","scale":{"domain":[6,15],"nice":false,"zero":false},"axis":{"orient":"left","values":[6,6.5,7,7.5,8,8.5,9,9.5,10,10.5,11,11.5,12,12.5,13,13.5,14,14.5,15],"labels":false,"title":null,"tickSize":{"condition":{"test":"datum.value % 1 == 0","value":6},"value":3}}}}},
{"data":{"name":"labels"},"transform":[{"filter":"datum.p==5"}],"mark":{"type":"text","opacity":0},"encoding":{"text":{"field":"name"},"x":{"datum":31.96,"type":"quantitative","scale":{"domain":[31.78,34.2],"nice":false,"zero":false},"axis":{"orient":"top","values":[31.8,32,32.2,32.4,32.6,32.8,33,33.2,33.4,33.6,33.8,34,34.2],"labels":false,"title":null,"tickSize":{"condition":{"test":"datum.value % 1 == 0","value":6},"value":3}}},"y":{"datum":6.72,"type":"quantitative","scale":{"domain":[6,15],"nice":false,"zero":false},"axis":{"orient":"right","values":[6,6.5,7,7.5,8,8.5,9,9.5,10,10.5,11,11.5,12,12.5,13,13.5,14,14.5,15],"labels":false,"title":null,"tickSize":{"condition":{"test":"datum.value % 1 == 0","value":6},"value":3}}}}}
]},
{"width":189,"height":272,"resolve":{"axis":{"x":"independent","y":"independent"}},"layer":[
{"data":{"name":"iso"},"transform":[{"filter":"datum.k=='d'"}],"mark":{"type":"line","clip":true,"stroke":"#8c8c8c","strokeWidth":0.9,"strokeDash":[7,5]},"encoding":{"x":{"field":"s","type":"quantitative","scale":{"domain":[31.78,34.2],"nice":false,"zero":false},"axis":null},"y":{"field":"t","type":"quantitative","scale":{"domain":[6,15],"nice":false,"zero":false},"axis":null},"detail":{"field":"id"}}},
{"data":{"name":"iso"},"transform":[{"filter":"datum.k=='s'"}],"mark":{"type":"line","clip":true,"stroke":"#b4b4b4","strokeWidth":0.8},"encoding":{"x":{"field":"s","type":"quantitative","scale":{"domain":[31.78,34.2],"nice":false,"zero":false},"axis":null},"y":{"field":"t","type":"quantitative","scale":{"domain":[6,15],"nice":false,"zero":false},"axis":null},"detail":{"field":"id"}}},
{"data":{"name":"polys"},"transform":[{"filter":"datum.p==6 && datum.c=='r'"}],"mark":{"type":"line","clip":true,"interpolate":"linear-closed","fill":"#c00000","stroke":"#000","strokeWidth":1.6,"strokeJoin":"round"},"encoding":{"x":{"field":"s","type":"quantitative","scale":{"domain":[31.78,34.2],"nice":false,"zero":false},"axis":null},"y":{"field":"t","type":"quantitative","scale":{"domain":[6,15],"nice":false,"zero":false},"axis":null},"detail":{"field":"g"},"order":{"value":null}}},
{"data":{"name":"lines"},"transform":[{"filter":"datum.p==6"}],"mark":{"type":"line","clip":true,"stroke":"#000","strokeWidth":2.5},"encoding":{"x":{"field":"s","type":"quantitative","scale":{"domain":[31.78,34.2],"nice":false,"zero":false},"axis":null},"y":{"field":"t","type":"quantitative","scale":{"domain":[6,15],"nice":false,"zero":false},"axis":null},"detail":{"field":"g"},"order":{"value":null}}},
{"data":{"name":"cross"},"transform":[{"filter":"datum.p==6"}],"mark":{"type":"rule","clip":true,"stroke":"#333","strokeWidth":1},"encoding":{"x":{"field":"s1","type":"quantitative","scale":{"domain":[31.78,34.2],"nice":false,"zero":false},"axis":null},"x2":{"field":"s2"},"y":{"field":"t","type":"quantitative","scale":{"domain":[6,15],"nice":false,"zero":false},"axis":null}}},
{"data":{"name":"cross"},"transform":[{"filter":"datum.p==6"}],"mark":{"type":"rule","clip":true,"stroke":"#333","strokeWidth":1},"encoding":{"x":{"field":"s","type":"quantitative","scale":{"domain":[31.78,34.2],"nice":false,"zero":false},"axis":null},"y":{"field":"t1","type":"quantitative","scale":{"domain":[6,15],"nice":false,"zero":false},"axis":null},"y2":{"field":"t2"}}},
{"data":{"name":"labels"},"transform":[{"filter":"datum.p==6"}],"mark":{"type":"text","align":"left","baseline":"middle","font":"Liberation Sans","fontSize":14,"color":"#333"},"encoding":{"text":{"field":"name"},"x":{"datum":31.96,"type":"quantitative","scale":{"domain":[31.78,34.2],"nice":false,"zero":false},"axis":{"orient":"bottom","values":[31.8,32,32.2,32.4,32.6,32.8,33,33.2,33.4,33.6,33.8,34,34.2],"labelExpr":"datum.value % 1 == 0 ? format(datum.value,'d') : ''","title":"Salinity","labelPadding":4,"titlePadding":6,"tickSize":{"condition":{"test":"datum.value % 1 == 0","value":6},"value":3}}},"y":{"datum":6.72,"type":"quantitative","scale":{"domain":[6,15],"nice":false,"zero":false},"axis":{"orient":"left","values":[6,6.5,7,7.5,8,8.5,9,9.5,10,10.5,11,11.5,12,12.5,13,13.5,14,14.5,15],"labelExpr":"datum.value % 1 == 0 ? format(datum.value,'d') : ''","title":"Temperature ( C)","titleFontSize":15,"labelPadding":5,"titlePadding":8,"tickSize":{"condition":{"test":"datum.value % 1 == 0","value":6},"value":3}}}}},
{"data":{"name":"labels"},"transform":[{"filter":"datum.p==6"}],"mark":{"type":"text","opacity":0},"encoding":{"text":{"field":"name"},"x":{"datum":31.96,"type":"quantitative","scale":{"domain":[31.78,34.2],"nice":false,"zero":false},"axis":{"orient":"top","values":[31.8,32,32.2,32.4,32.6,32.8,33,33.2,33.4,33.6,33.8,34,34.2],"labels":false,"title":null,"tickSize":{"condition":{"test":"datum.value % 1 == 0","value":6},"value":3}}},"y":{"datum":6.72,"type":"quantitative","scale":{"domain":[6,15],"nice":false,"zero":false},"axis":{"orient":"right","values":[6,6.5,7,7.5,8,8.5,9,9.5,10,10.5,11,11.5,12,12.5,13,13.5,14,14.5,15],"labels":false,"title":null,"tickSize":{"condition":{"test":"datum.value % 1 == 0","value":6},"value":3}}}}}
]},
{"width":189,"height":272,"resolve":{"axis":{"x":"independent","y":"independent"}},"layer":[
{"data":{"name":"iso"},"transform":[{"filter":"datum.k=='d'"}],"mark":{"type":"line","clip":true,"stroke":"#8c8c8c","strokeWidth":0.9,"strokeDash":[7,5]},"encoding":{"x":{"field":"s","type":"quantitative","scale":{"domain":[31.78,34.2],"nice":false,"zero":false},"axis":null},"y":{"field":"t","type":"quantitative","scale":{"domain":[6,15],"nice":false,"zero":false},"axis":null},"detail":{"field":"id"}}},
{"data":{"name":"iso"},"transform":[{"filter":"datum.k=='s'"}],"mark":{"type":"line","clip":true,"stroke":"#b4b4b4","strokeWidth":0.8},"encoding":{"x":{"field":"s","type":"quantitative","scale":{"domain":[31.78,34.2],"nice":false,"zero":false},"axis":null},"y":{"field":"t","type":"quantitative","scale":{"domain":[6,15],"nice":false,"zero":false},"axis":null},"detail":{"field":"id"}}},
{"data":{"name":"polys"},"transform":[{"filter":"datum.p==7 && datum.c=='r'"}],"mark":{"type":"line","clip":true,"interpolate":"linear-closed","fill":"#ff0000","stroke":"#000","strokeWidth":1.6,"strokeJoin":"round"},"encoding":{"x":{"field":"s","type":"quantitative","scale":{"domain":[31.78,34.2],"nice":false,"zero":false},"axis":null},"y":{"field":"t","type":"quantitative","scale":{"domain":[6,15],"nice":false,"zero":false},"axis":null},"detail":{"field":"g"},"order":{"value":null}}},
{"data":{"name":"polys"},"transform":[{"filter":"datum.p==7 && datum.c=='b'"}],"mark":{"type":"line","clip":true,"interpolate":"linear-closed","fill":"#8fcde9","stroke":"#000","strokeWidth":1.6,"strokeJoin":"round"},"encoding":{"x":{"field":"s","type":"quantitative","scale":{"domain":[31.78,34.2],"nice":false,"zero":false},"axis":null},"y":{"field":"t","type":"quantitative","scale":{"domain":[6,15],"nice":false,"zero":false},"axis":null},"detail":{"field":"g"},"order":{"value":null}}},
{"data":{"name":"lines"},"transform":[{"filter":"datum.p==7"}],"mark":{"type":"line","clip":true,"stroke":"#000","strokeWidth":1.6},"encoding":{"x":{"field":"s","type":"quantitative","scale":{"domain":[31.78,34.2],"nice":false,"zero":false},"axis":null},"y":{"field":"t","type":"quantitative","scale":{"domain":[6,15],"nice":false,"zero":false},"axis":null},"detail":{"field":"g"},"order":{"value":null}}},
{"data":{"name":"cross"},"transform":[{"filter":"datum.p==7"}],"mark":{"type":"rule","clip":true,"stroke":"#333","strokeWidth":1},"encoding":{"x":{"field":"s1","type":"quantitative","scale":{"domain":[31.78,34.2],"nice":false,"zero":false},"axis":null},"x2":{"field":"s2"},"y":{"field":"t","type":"quantitative","scale":{"domain":[6,15],"nice":false,"zero":false},"axis":null}}},
{"data":{"name":"cross"},"transform":[{"filter":"datum.p==7"}],"mark":{"type":"rule","clip":true,"stroke":"#333","strokeWidth":1},"encoding":{"x":{"field":"s","type":"quantitative","scale":{"domain":[31.78,34.2],"nice":false,"zero":false},"axis":null},"y":{"field":"t1","type":"quantitative","scale":{"domain":[6,15],"nice":false,"zero":false},"axis":null},"y2":{"field":"t2"}}},
{"data":{"name":"labels"},"transform":[{"filter":"datum.p==7"}],"mark":{"type":"text","align":"left","baseline":"middle","font":"Liberation Sans","fontSize":14,"color":"#333"},"encoding":{"text":{"field":"name"},"x":{"datum":31.96,"type":"quantitative","scale":{"domain":[31.78,34.2],"nice":false,"zero":false},"axis":{"orient":"bottom","values":[31.8,32,32.2,32.4,32.6,32.8,33,33.2,33.4,33.6,33.8,34,34.2],"labels":false,"title":null,"tickSize":{"condition":{"test":"datum.value % 1 == 0","value":6},"value":3}}},"y":{"datum":6.72,"type":"quantitative","scale":{"domain":[6,15],"nice":false,"zero":false},"axis":{"orient":"left","values":[6,6.5,7,7.5,8,8.5,9,9.5,10,10.5,11,11.5,12,12.5,13,13.5,14,14.5,15],"labels":false,"title":null,"tickSize":{"condition":{"test":"datum.value % 1 == 0","value":6},"value":3}}}}},
{"data":{"name":"labels"},"transform":[{"filter":"datum.p==7"}],"mark":{"type":"text","opacity":0},"encoding":{"text":{"field":"name"},"x":{"datum":31.96,"type":"quantitative","scale":{"domain":[31.78,34.2],"nice":false,"zero":false},"axis":{"orient":"top","values":[31.8,32,32.2,32.4,32.6,32.8,33,33.2,33.4,33.6,33.8,34,34.2],"labels":false,"title":null,"tickSize":{"condition":{"test":"datum.value % 1 == 0","value":6},"value":3}}},"y":{"datum":6.72,"type":"quantitative","scale":{"domain":[6,15],"nice":false,"zero":false},"axis":{"orient":"right","values":[6,6.5,7,7.5,8,8.5,9,9.5,10,10.5,11,11.5,12,12.5,13,13.5,14,14.5,15],"labels":false,"title":null,"tickSize":{"condition":{"test":"datum.value % 1 == 0","value":6},"value":3}}}}}
]},
{"width":189,"height":272,"resolve":{"axis":{"x":"independent","y":"independent"}},"layer":[
{"data":{"name":"iso"},"transform":[{"filter":"datum.k=='d'"}],"mark":{"type":"line","clip":true,"stroke":"#8c8c8c","strokeWidth":0.9,"strokeDash":[7,5]},"encoding":{"x":{"field":"s","type":"quantitative","scale":{"domain":[31.78,34.2],"nice":false,"zero":false},"axis":null},"y":{"field":"t","type":"quantitative","scale":{"domain":[6,15],"nice":false,"zero":false},"axis":null},"detail":{"field":"id"}}},
{"data":{"name":"iso"},"transform":[{"filter":"datum.k=='s'"}],"mark":{"type":"line","clip":true,"stroke":"#b4b4b4","strokeWidth":0.8},"encoding":{"x":{"field":"s","type":"quantitative","scale":{"domain":[31.78,34.2],"nice":false,"zero":false},"axis":null},"y":{"field":"t","type":"quantitative","scale":{"domain":[6,15],"nice":false,"zero":false},"axis":null},"detail":{"field":"id"}}},
{"data":{"name":"polys"},"transform":[{"filter":"datum.p==8 && datum.c=='b'"}],"mark":{"type":"line","clip":true,"interpolate":"linear-closed","fill":"#8fcde9","stroke":"#000","strokeWidth":1.8,"strokeJoin":"round"},"encoding":{"x":{"field":"s","type":"quantitative","scale":{"domain":[31.78,34.2],"nice":false,"zero":false},"axis":null},"y":{"field":"t","type":"quantitative","scale":{"domain":[6,15],"nice":false,"zero":false},"axis":null},"detail":{"field":"g"},"order":{"value":null}}},
{"data":{"name":"lines"},"transform":[{"filter":"datum.p==8"}],"mark":{"type":"line","clip":true,"stroke":"#000","strokeWidth":2.2},"encoding":{"x":{"field":"s","type":"quantitative","scale":{"domain":[31.78,34.2],"nice":false,"zero":false},"axis":null},"y":{"field":"t","type":"quantitative","scale":{"domain":[6,15],"nice":false,"zero":false},"axis":null},"detail":{"field":"g"},"order":{"value":null}}},
{"data":{"name":"cross"},"transform":[{"filter":"datum.p==8"}],"mark":{"type":"rule","clip":true,"stroke":"#333","strokeWidth":1},"encoding":{"x":{"field":"s1","type":"quantitative","scale":{"domain":[31.78,34.2],"nice":false,"zero":false},"axis":null},"x2":{"field":"s2"},"y":{"field":"t","type":"quantitative","scale":{"domain":[6,15],"nice":false,"zero":false},"axis":null}}},
{"data":{"name":"cross"},"transform":[{"filter":"datum.p==8"}],"mark":{"type":"rule","clip":true,"stroke":"#333","strokeWidth":1},"encoding":{"x":{"field":"s","type":"quantitative","scale":{"domain":[31.78,34.2],"nice":false,"zero":false},"axis":null},"y":{"field":"t1","type":"quantitative","scale":{"domain":[6,15],"nice":false,"zero":false},"axis":null},"y2":{"field":"t2"}}},
{"data":{"name":"labels"},"transform":[{"filter":"datum.p==8"}],"mark":{"type":"text","align":"left","baseline":"middle","font":"Liberation Sans","fontSize":14,"color":"#333"},"encoding":{"text":{"field":"name"},"x":{"datum":31.96,"type":"quantitative","scale":{"domain":[31.78,34.2],"nice":false,"zero":false},"axis":{"orient":"bottom","values":[31.8,32,32.2,32.4,32.6,32.8,33,33.2,33.4,33.6,33.8,34,34.2],"labels":false,"title":null,"tickSize":{"condition":{"test":"datum.value % 1 == 0","value":6},"value":3}}},"y":{"datum":6.72,"type":"quantitative","scale":{"domain":[6,15],"nice":false,"zero":false},"axis":{"orient":"left","values":[6,6.5,7,7.5,8,8.5,9,9.5,10,10.5,11,11.5,12,12.5,13,13.5,14,14.5,15],"labels":false,"title":null,"tickSize":{"condition":{"test":"datum.value % 1 == 0","value":6},"value":3}}}}},
{"data":{"name":"labels"},"transform":[{"filter":"datum.p==8"}],"mark":{"type":"text","opacity":0},"encoding":{"text":{"field":"name"},"x":{"datum":31.96,"type":"quantitative","scale":{"domain":[31.78,34.2],"nice":false,"zero":false},"axis":{"orient":"top","values":[31.8,32,32.2,32.4,32.6,32.8,33,33.2,33.4,33.6,33.8,34,34.2],"labels":false,"title":null,"tickSize":{"condition":{"test":"datum.value % 1 == 0","value":6},"value":3}}},"y":{"datum":6.72,"type":"quantitative","scale":{"domain":[6,15],"nice":false,"zero":false},"axis":{"orient":"right","values":[6,6.5,7,7.5,8,8.5,9,9.5,10,10.5,11,11.5,12,12.5,13,13.5,14,14.5,15],"labels":false,"title":null,"tickSize":{"condition":{"test":"datum.value % 1 == 0","value":6},"value":3}}}}}
]},
{"width":189,"height":272,"resolve":{"axis":{"x":"independent","y":"independent"}},"layer":[
{"data":{"name":"iso"},"transform":[{"filter":"datum.k=='d'"}],"mark":{"type":"line","clip":true,"stroke":"#8c8c8c","strokeWidth":0.9,"strokeDash":[7,5]},"encoding":{"x":{"field":"s","type":"quantitative","scale":{"domain":[31.78,34.2],"nice":false,"zero":false},"axis":null},"y":{"field":"t","type":"quantitative","scale":{"domain":[6,15],"nice":false,"zero":false},"axis":null},"detail":{"field":"id"}}},
{"data":{"name":"iso"},"transform":[{"filter":"datum.k=='s'"}],"mark":{"type":"line","clip":true,"stroke":"#b4b4b4","strokeWidth":0.8},"encoding":{"x":{"field":"s","type":"quantitative","scale":{"domain":[31.78,34.2],"nice":false,"zero":false},"axis":null},"y":{"field":"t","type":"quantitative","scale":{"domain":[6,15],"nice":false,"zero":false},"axis":null},"detail":{"field":"id"}}},
{"data":{"name":"polys"},"transform":[{"filter":"datum.p==9 && datum.c=='r'"}],"mark":{"type":"line","clip":true,"interpolate":"linear-closed","fill":"#ff0000","stroke":"#000","strokeWidth":1.6,"strokeJoin":"round"},"encoding":{"x":{"field":"s","type":"quantitative","scale":{"domain":[31.78,34.2],"nice":false,"zero":false},"axis":null},"y":{"field":"t","type":"quantitative","scale":{"domain":[6,15],"nice":false,"zero":false},"axis":null},"detail":{"field":"g"},"order":{"value":null}}},
{"data":{"name":"polys"},"transform":[{"filter":"datum.p==9 && datum.c=='b'"}],"mark":{"type":"line","clip":true,"interpolate":"linear-closed","fill":"#8fcde9","stroke":"#000","strokeWidth":1.6,"strokeJoin":"round"},"encoding":{"x":{"field":"s","type":"quantitative","scale":{"domain":[31.78,34.2],"nice":false,"zero":false},"axis":null},"y":{"field":"t","type":"quantitative","scale":{"domain":[6,15],"nice":false,"zero":false},"axis":null},"detail":{"field":"g"},"order":{"value":null}}},
{"data":{"name":"lines"},"transform":[{"filter":"datum.p==9"}],"mark":{"type":"line","clip":true,"stroke":"#000","strokeWidth":1.2},"encoding":{"x":{"field":"s","type":"quantitative","scale":{"domain":[31.78,34.2],"nice":false,"zero":false},"axis":null},"y":{"field":"t","type":"quantitative","scale":{"domain":[6,15],"nice":false,"zero":false},"axis":null},"detail":{"field":"g"},"order":{"value":null}}},
{"data":{"name":"cross"},"transform":[{"filter":"datum.p==9"}],"mark":{"type":"rule","clip":true,"stroke":"#333","strokeWidth":1},"encoding":{"x":{"field":"s1","type":"quantitative","scale":{"domain":[31.78,34.2],"nice":false,"zero":false},"axis":null},"x2":{"field":"s2"},"y":{"field":"t","type":"quantitative","scale":{"domain":[6,15],"nice":false,"zero":false},"axis":null}}},
{"data":{"name":"cross"},"transform":[{"filter":"datum.p==9"}],"mark":{"type":"rule","clip":true,"stroke":"#333","strokeWidth":1},"encoding":{"x":{"field":"s","type":"quantitative","scale":{"domain":[31.78,34.2],"nice":false,"zero":false},"axis":null},"y":{"field":"t1","type":"quantitative","scale":{"domain":[6,15],"nice":false,"zero":false},"axis":null},"y2":{"field":"t2"}}},
{"data":{"name":"labels"},"transform":[{"filter":"datum.p==9"}],"mark":{"type":"text","align":"left","baseline":"middle","font":"Liberation Sans","fontSize":14,"color":"#333"},"encoding":{"text":{"field":"name"},"x":{"datum":31.96,"type":"quantitative","scale":{"domain":[31.78,34.2],"nice":false,"zero":false},"axis":{"orient":"bottom","values":[31.8,32,32.2,32.4,32.6,32.8,33,33.2,33.4,33.6,33.8,34,34.2],"labels":false,"title":null,"tickSize":{"condition":{"test":"datum.value % 1 == 0","value":6},"value":3}}},"y":{"datum":6.72,"type":"quantitative","scale":{"domain":[6,15],"nice":false,"zero":false},"axis":{"orient":"left","values":[6,6.5,7,7.5,8,8.5,9,9.5,10,10.5,11,11.5,12,12.5,13,13.5,14,14.5,15],"labels":false,"title":null,"tickSize":{"condition":{"test":"datum.value % 1 == 0","value":6},"value":3}}}}},
{"data":{"name":"labels"},"transform":[{"filter":"datum.p==9"}],"mark":{"type":"text","opacity":0},"encoding":{"text":{"field":"name"},"x":{"datum":31.96,"type":"quantitative","scale":{"domain":[31.78,34.2],"nice":false,"zero":false},"axis":{"orient":"top","values":[31.8,32,32.2,32.4,32.6,32.8,33,33.2,33.4,33.6,33.8,34,34.2],"labels":false,"title":null,"tickSize":{"condition":{"test":"datum.value % 1 == 0","value":6},"value":3}}},"y":{"datum":6.72,"type":"quantitative","scale":{"domain":[6,15],"nice":false,"zero":false},"axis":{"orient":"right","values":[6,6.5,7,7.5,8,8.5,9,9.5,10,10.5,11,11.5,12,12.5,13,13.5,14,14.5,15],"labels":false,"title":null,"tickSize":{"condition":{"test":"datum.value % 1 == 0","value":6},"value":3}}}}}
]},
{"width":189,"height":272,"resolve":{"axis":{"x":"independent","y":"independent"}},"layer":[
{"data":{"name":"labels"},"transform":[{"filter":"datum.p==10"}],"mark":{"type":"text","align":"left","baseline":"middle","font":"Liberation Sans","fontSize":14,"color":"#333"},"encoding":{"text":{"field":"name"},"x":{"datum":31.96,"type":"quantitative","scale":{"domain":[31.78,34.2],"nice":false,"zero":false},"axis":{"orient":"bottom","values":[31.8,32,32.2,32.4,32.6,32.8,33,33.2,33.4,33.6,33.8,34,34.2],"labels":false,"title":null,"tickSize":{"condition":{"test":"datum.value % 1 == 0","value":6},"value":3}}},"y":{"datum":6.72,"type":"quantitative","scale":{"domain":[6,15],"nice":false,"zero":false},"axis":{"orient":"left","values":[6,6.5,7,7.5,8,8.5,9,9.5,10,10.5,11,11.5,12,12.5,13,13.5,14,14.5,15],"labels":false,"title":null,"tickSize":{"condition":{"test":"datum.value % 1 == 0","value":6},"value":3}}}}},
{"data":{"name":"labels"},"transform":[{"filter":"datum.p==10"}],"mark":{"type":"text","opacity":0},"encoding":{"text":{"field":"name"},"x":{"datum":31.96,"type":"quantitative","scale":{"domain":[31.78,34.2],"nice":false,"zero":false},"axis":{"orient":"top","values":[31.8,32,32.2,32.4,32.6,32.8,33,33.2,33.4,33.6,33.8,34,34.2],"labels":false,"title":null,"tickSize":{"condition":{"test":"datum.value % 1 == 0","value":6},"value":3}}},"y":{"datum":6.72,"type":"quantitative","scale":{"domain":[6,15],"nice":false,"zero":false},"axis":{"orient":"right","values":[6,6.5,7,7.5,8,8.5,9,9.5,10,10.5,11,11.5,12,12.5,13,13.5,14,14.5,15],"labels":false,"title":null,"tickSize":{"condition":{"test":"datum.value % 1 == 0","value":6},"value":3}}}}}
]}
]
}
